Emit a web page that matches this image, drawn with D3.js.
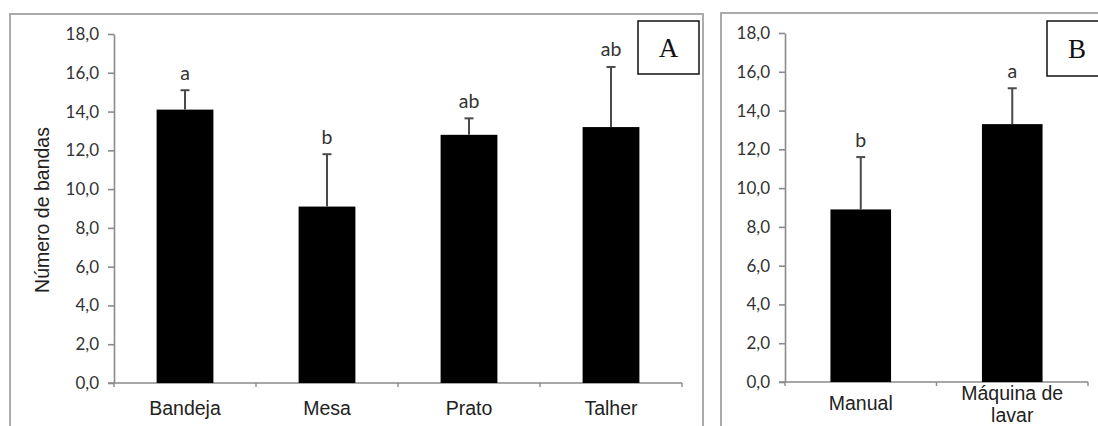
<!DOCTYPE html>
<html>
<head>
<meta charset="utf-8">
<script src="https://cdn.jsdelivr.net/npm/d3@7"></script>
<style>
  html, body { margin: 0; padding: 0; background: #fff; }
  svg { display: block; }
</style>
</head>
<body>
<div id="chart"></div>
<script>
// ---- data ----
const catA = ["Bandeja", "Mesa", "Prato", "Talher"];
const meanA = [14.1, 9.1, 12.8, 13.2];
const sdA = [1.0, 2.7, 0.85, 3.1];
const lettersA = ["a", "b", "ab", "ab"];

const catB = ["Manual", "Máquina de lavar"];
const meanB = [8.9, 13.3];
const sdB = [2.7, 1.85];
const lettersB = ["b", "a"];

const yTicks = [0, 2, 4, 6, 8, 10, 12, 14, 16, 18];

const W = 1098, H = 426;
const ptBR = d3.formatLocale({ decimal: ",", thousands: ".", grouping: [3], currency: ["R$", ""] });
const fmt = ptBR.format(".1f");

const svg = d3.select("#chart").append("svg")
    .attr("width", W)
    .attr("height", H);

// outer frames of the two panels
svg.append("rect")
    .attr("x", 10).attr("y", 14).attr("width", 693).attr("height", 430)
    .attr("fill", "none").attr("stroke", "#ababab").attr("stroke-width", 2);
svg.append("rect")
    .attr("x", 721).attr("y", 13).attr("width", 400).attr("height", 430)
    .attr("fill", "none").attr("stroke", "#ababab").attr("stroke-width", 2);

function drawPanel(p) {
    const g = svg.append("g");
    const x = d3.scaleBand()
        .domain(p.cats)
        .range([p.x0, p.x1])
        .paddingInner(0.6)
        .paddingOuter(0.3);
    const y = d3.scaleLinear().domain([0, 18]).range([p.y0, p.y1]);

    // y axis
    const ya = g.append("g")
        .attr("transform", `translate(${p.x0},0)`)
        .call(d3.axisLeft(y).tickValues(yTicks).tickFormat(fmt).tickSize(6).tickPadding(9).tickSizeOuter(0));
    ya.select(".domain").attr("stroke", "#8a8a8a").attr("stroke-width", 1.6);
    ya.selectAll(".tick line").attr("stroke", "#8a8a8a").attr("stroke-width", 1.6);
    ya.selectAll(".tick text")
        .attr("font-family", "Lato, 'Open Sans', sans-serif")
        .attr("font-size", 17)
        .attr("fill", "#333");

    // x axis: line with small ticks at category boundaries
    g.append("line")
        .attr("x1", p.x0 - 6).attr("x2", p.x1)
        .attr("y1", y(0)).attr("y2", y(0))
        .attr("stroke", "#8a8a8a").attr("stroke-width", 1.6);
    const bounds = [p.x0].concat(p.cats.map(c => x(c) + x.bandwidth() + x.step() * 0.3));
    g.selectAll(".xt").data(bounds).join("line")
        .attr("x1", d => d).attr("x2", d => d)
        .attr("y1", y(0)).attr("y2", y(0) + 4)
        .attr("stroke", "#8a8a8a").attr("stroke-width", 1.4);

    const rows = p.cats.map((c, i) => ({ c: c, m: p.mean[i], s: p.sd[i], l: p.letters[i] }));

    // bars
    g.selectAll(".bar").data(rows).join("rect")
        .attr("x", d => x(d.c))
        .attr("y", d => y(d.m))
        .attr("width", x.bandwidth())
        .attr("height", d => y(0) - y(d.m))
        .attr("fill", "#000");

    // error bars (upper only)
    const cx = d => x(d.c) + x.bandwidth() / 2;
    g.selectAll(".err").data(rows).join("line")
        .attr("x1", cx).attr("x2", cx)
        .attr("y1", d => y(d.m)).attr("y2", d => y(d.m + d.s))
        .attr("stroke", "#4a4a4a").attr("stroke-width", 2);
    g.selectAll(".cap").data(rows).join("line")
        .attr("x1", d => cx(d) - 4.5).attr("x2", d => cx(d) + 4.5)
        .attr("y1", d => y(d.m + d.s)).attr("y2", d => y(d.m + d.s))
        .attr("stroke", "#4a4a4a").attr("stroke-width", 2);

    // significance letters
    g.selectAll(".let").data(rows).join("text")
        .attr("x", cx)
        .attr("y", d => y(d.m + d.s) - 10.5)
        .attr("text-anchor", "middle")
        .attr("font-family", "Lato, 'Open Sans', sans-serif")
        .attr("font-size", 19.5)
        .attr("fill", "#333")
        .text(d => d.l);

    // category labels (may wrap onto two lines)
    g.selectAll(".cat").data(rows).join("text")
        .attr("text-anchor", "middle")
        .attr("font-family", "'Liberation Sans', Arial, sans-serif")
        .attr("font-size", 19.5)
        .attr("fill", "#222")
        .each(function (d) {
            const t = d3.select(this);
            const lines = p.wrap[d.c] || [d.c];
            const base = lines.length > 1 ? p.labelY - 10 : p.labelY;
            lines.forEach((ln, k) => {
                t.append("tspan")
                    .attr("x", cx(d))
                    .attr("y", base + k * 22)
                    .text(ln);
            });
        });

    // panel tag box
    g.append("rect")
        .attr("x", p.box[0]).attr("y", p.box[1])
        .attr("width", p.box[2]).attr("height", p.box[3])
        .attr("fill", "#fff").attr("stroke", "#111").attr("stroke-width", 1.5);
    g.append("text")
        .attr("x", p.box[0] + (p.tagX || p.box[2] / 2))
        .attr("y", p.box[1] + p.box[3] / 2 + 9)
        .attr("text-anchor", "middle")
        .attr("font-family", "'Liberation Serif', 'Times New Roman', serif")
        .attr("font-size", 27)
        .attr("fill", "#111")
        .text(p.tag);
}

drawPanel({
    cats: catA, mean: meanA, sd: sdA, letters: lettersA,
    x0: 114, x1: 682, y0: 383, y1: 34,
    labelY: 415, wrap: {},
    box: [638, 21, 61, 53], tag: "A"
});

drawPanel({
    cats: catB, mean: meanB, sd: sdB, letters: lettersB,
    x0: 785, x1: 1088, y0: 382, y1: 33,
    labelY: 410, wrap: { "Máquina de lavar": ["Máquina de", "lavar"] },
    box: [1047, 21, 60, 55], tag: "B", tagX: 30
});

// y axis title (panel A only)
svg.append("text")
    .attr("transform", "translate(49,210) rotate(-90)")
    .attr("text-anchor", "middle")
    .attr("font-family", "'Liberation Sans', Arial, sans-serif")
    .attr("font-size", 19.5)
    .attr("fill", "#222")
    .text("Número de bandas");
</script>
</body>
</html>
